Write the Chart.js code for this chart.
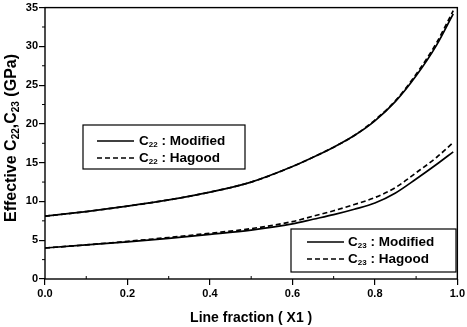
<!DOCTYPE html>
<html>
<head>
<meta charset="utf-8">
<script src="https://cdn.jsdelivr.net/npm/chart.js@4/dist/chart.umd.min.js"></script>
<style>
  html, body { margin: 0; padding: 0; background: #fff; }
  #wrap { width: 467px; height: 327px; }
</style>
</head>
<body>
<div id="wrap"><canvas id="chart" width="467" height="327"></canvas></div>
<script>
const lineFraction = [0, 0.1, 0.2, 0.3, 0.4, 0.5, 0.6, 0.65, 0.7, 0.75, 0.8, 0.85, 0.9, 0.95, 0.99];
const c22Modified = [8.1, 8.7, 9.4, 10.2, 11.2, 12.5, 14.5, 15.7, 17.0, 18.5, 20.4, 22.9, 26.2, 30.2, 34.2];
const c22Hagood   = [8.1, 8.7, 9.4, 10.2, 11.2, 12.5, 14.5, 15.7, 17.0, 18.5, 20.5, 23.0, 26.4, 30.5, 34.6];
const c23Modified = [4.0, 4.4, 4.8, 5.25, 5.75, 6.3, 7.1, 7.7, 8.3, 9.0, 9.8, 11.1, 12.9, 14.8, 16.4];
const c23Hagood   = [4.0, 4.4, 4.85, 5.35, 5.9, 6.5, 7.4, 8.1, 8.8, 9.6, 10.5, 11.8, 13.7, 15.7, 17.6];
const xTicks = [0, 0.2, 0.4, 0.6, 0.8, 1.0];
const yTicks = [0, 5, 10, 15, 20, 25, 30, 35];

const FONT = '"Liberation Sans", Arial, sans-serif';

function pts(ys) {
  return lineFraction.map((x, i) => ({ x: x, y: ys[i] }));
}

function series(label, ys, dashed) {
  return {
    label: label,
    data: pts(ys),
    borderColor: "#000",
    borderWidth: 1.7,
    borderDash: dashed ? [5, 3] : [],
    pointRadius: 0,
    fill: false,
    cubicInterpolationMode: "monotone",
  };
}

// text with a subscript, e.g. C + "22" + " : Modified"
function subText(ctx, x, y, main, sub, rest, size) {
  ctx.font = "bold " + size + "px " + FONT;
  ctx.fillText(main, x, y);
  x += ctx.measureText(main).width;
  ctx.font = "bold " + Math.round(size * 0.6) + "px " + FONT;
  ctx.fillText(sub, x, y + size * 0.3);
  x += ctx.measureText(sub).width;
  ctx.font = "bold " + size + "px " + FONT;
  ctx.fillText(rest, x, y);
  return x + ctx.measureText(rest).width;
}

function legendBox(ctx, box, rows) {
  ctx.save();
  ctx.fillStyle = "#fff";
  ctx.fillRect(box.x, box.y, box.w, box.h);
  ctx.strokeStyle = "#000";
  ctx.lineWidth = 1.2;
  ctx.strokeRect(box.x, box.y, box.w, box.h);
  ctx.fillStyle = "#000";
  ctx.textBaseline = "middle";
  ctx.textAlign = "left";
  rows.forEach((r) => {
    ctx.beginPath();
    ctx.lineWidth = 1.6;
    ctx.setLineDash(r.dash);
    ctx.moveTo(box.lx1, r.y);
    ctx.lineTo(box.lx2, r.y);
    ctx.stroke();
    ctx.setLineDash([]);
    subText(ctx, box.tx, r.y, "C", r.sub, " : " + r.name, 13.5);
  });
  ctx.restore();
}

const decorations = {
  id: "decorations",
  afterDraw(chart) {
    const ctx = chart.ctx;
    const a = chart.chartArea;
    const xs = chart.scales.x;
    const ys = chart.scales.y;
    ctx.save();
    ctx.strokeStyle = "#000";
    ctx.lineWidth = 1.4;
    ctx.strokeRect(a.left, a.top, a.right - a.left, a.bottom - a.top);

    // minor ticks
    ctx.lineWidth = 1;
    ctx.beginPath();
    for (let v = 2.5; v < 35; v += 5) {
      const p = ys.getPixelForValue(v);
      ctx.moveTo(a.left, p);
      ctx.lineTo(a.left - 3, p);
    }
    for (let v = 0.1; v < 1; v += 0.2) {
      const p = xs.getPixelForValue(v);
      ctx.moveTo(p, a.bottom);
      ctx.lineTo(p, a.bottom - 3);
    }
    ctx.stroke();

    // y axis title with subscripts
    ctx.translate(12, 138);
    ctx.rotate(-Math.PI / 2);
    ctx.fillStyle = "#000";
    ctx.textBaseline = "middle";
    const parts = [["Effective C", ""], ["22", "sub"], [",C", ""], ["23", "sub"], [" (GPa)", ""]];
    const big = "bold 16px " + FONT;
    const small = "bold 10px " + FONT;
    let w = 0;
    parts.forEach((p) => {
      ctx.font = p[1] ? small : big;
      w += ctx.measureText(p[0]).width;
    });
    let x = -w / 2;
    parts.forEach((p) => {
      ctx.font = p[1] ? small : big;
      ctx.fillText(p[0], x, p[1] ? 4 : 0);
      x += ctx.measureText(p[0]).width;
    });
    ctx.restore();

    legendBox(ctx, { x: 83, y: 125, w: 162, h: 44, lx1: 97, lx2: 134, tx: 139 }, [
      { y: 141, sub: "22", name: "Modified", dash: [] },
      { y: 158, sub: "22", name: "Hagood", dash: [5, 3] },
    ]);
    legendBox(ctx, { x: 291, y: 229, w: 165, h: 43, lx1: 307, lx2: 344, tx: 348 }, [
      { y: 242, sub: "23", name: "Modified", dash: [] },
      { y: 259, sub: "23", name: "Hagood", dash: [5, 3] },
    ]);
  },
};

new Chart(document.getElementById("chart").getContext("2d"), {
  type: "line",
  data: {
    datasets: [
      series("C22 : Modified", c22Modified, false),
      series("C22 : Hagood", c22Hagood, true),
      series("C23 : Modified", c23Modified, false),
      series("C23 : Hagood", c23Hagood, true),
    ],
  },
  options: {
    responsive: false,
    animation: false,
    layout: { padding: { top: 7, right: 8, left: 0, bottom: 0 } },
    plugins: { legend: { display: false }, tooltip: { enabled: false } },
    scales: {
      x: {
        type: "linear",
        min: 0,
        max: 1,
        afterBuildTicks: (s) => { s.ticks = xTicks.map((v) => ({ value: v })); },
        afterFit: (s) => { s.height = 48; },
        grid: { drawOnChartArea: false, tickLength: 6, color: "#000", lineWidth: 1.2 },
        border: { display: false },
        ticks: {
          color: "#000",
          padding: 2,
          maxRotation: 0,
          font: { family: FONT, size: 11, weight: "bold" },
          callback: (v) => v.toFixed(1),
        },
        title: {
          display: true,
          text: "Line fraction ( X1 )",
          color: "#000",
          padding: { top: 2, bottom: 0 },
          font: { family: FONT, size: 14, weight: "bold" },
        },
      },
      y: {
        type: "linear",
        min: 0,
        max: 35,
        afterBuildTicks: (s) => { s.ticks = yTicks.map((v) => ({ value: v })); },
        afterFit: (s) => { s.width = 45; },
        grid: { drawOnChartArea: false, tickLength: 6, color: "#000", lineWidth: 1.2 },
        border: { display: false },
        ticks: {
          color: "#000",
          padding: 1,
          font: { family: FONT, size: 11, weight: "bold" },
        },
      },
    },
  },
  plugins: [decorations],
});
</script>
</body>
</html>
